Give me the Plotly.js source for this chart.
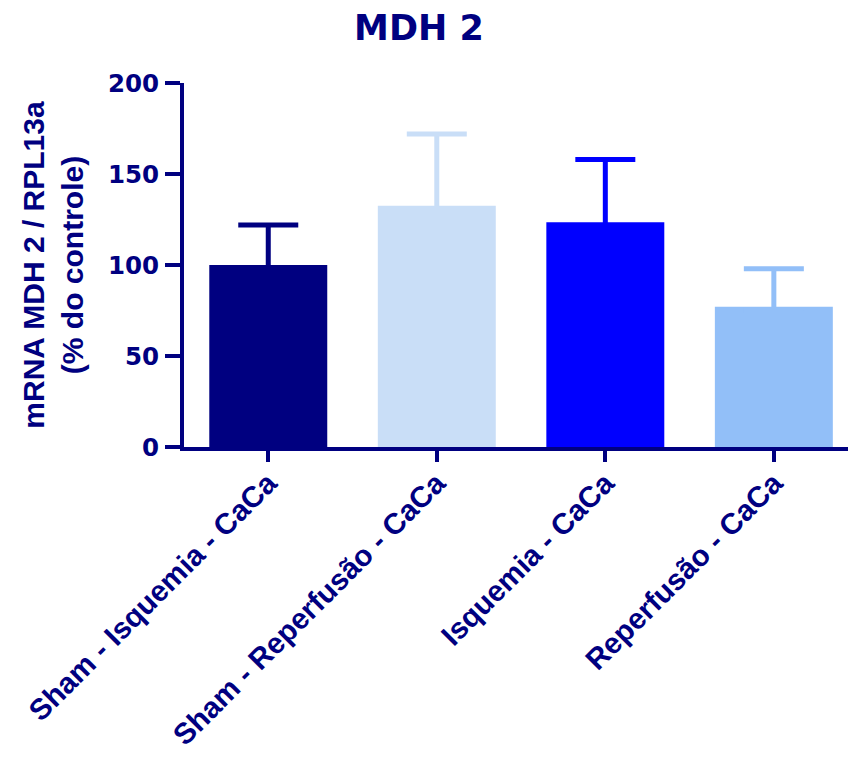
<!DOCTYPE html>
<html>
<head>
<meta charset="utf-8">
<script src="https://cdn.plot.ly/plotly-3.0.1.min.js"></script>
<style>
  html, body { margin: 0; padding: 0; background: #ffffff; }
  #chart { width: 848px; height: 758px; }
</style>
</head>
<body>
<div id="chart"></div>
<script>
// MDH 2 expression, normalised to RPL13a (% of control)
const groups = [
  "Sham - Isquemia - CaCa",
  "Sham - Reperfusão - CaCa",
  "Isquemia - CaCa",
  "Reperfusão - CaCa"
];
const meanValues = [100, 132.5, 123.5, 77];
const errorUpper = [22, 39.5, 34.5, 21];
const barColors = ["#000080", "#C9DEF7", "#0000FF", "#92BFF8"];
const yTicks = [0, 50, 100, 150, 200];

const navy = "#000080";

// Only the upper whisker is shown; the lower end is tucked just inside
// the bar top so its crossbar is hidden by the bar of the same colour.
const hiddenShoe = 2;

// One trace per group so each error bar takes its bar's colour
const traces = groups.map((g, i) => ({
  type: "bar",
  x: [g],
  y: [meanValues[i]],
  marker: { color: barColors[i], line: { width: 0 } },
  error_y: {
    type: "data",
    symmetric: false,
    array: [errorUpper[i]],
    arrayminus: [hiddenShoe],
    color: barColors[i],
    thickness: 5,
    width: 30
  },
  showlegend: false,
  hoverinfo: "x+y"
}));

const layout = {
  width: 848,
  height: 758,
  margin: { l: 184, r: 0, t: 83, b: 311 },
  paper_bgcolor: "#ffffff",
  plot_bgcolor: "#ffffff",
  barmode: "overlay",
  bargap: 0.30,
  title: {
    text: "MDH 2",
    font: { family: "DejaVu Sans", size: 35, color: navy, weight: "bold" },
    x: 0.494, xref: "container", xanchor: "center",
    y: 0.964, yref: "container", yanchor: "middle"
  },
  xaxis: {
    type: "category",
    categoryorder: "array",
    categoryarray: groups,
    range: [-0.5, 3.44],
    showgrid: false,
    zeroline: false,
    showline: true,
    linecolor: navy,
    linewidth: 4,
    ticks: "outside",
    ticklen: 11,
    tickwidth: 4,
    tickcolor: navy,
    tickangle: -45,
    ticklabelstandoff: -8,
    tickfont: { family: "Liberation Sans, Arial", size: 29.5, color: navy, weight: "bold" },
    fixedrange: true
  },
  yaxis: {
    range: [0, 200],
    tickvals: yTicks,
    ticktext: yTicks.map(String),
    showgrid: false,
    zeroline: false,
    showline: true,
    linecolor: navy,
    linewidth: 4,
    ticks: "outside",
    ticklen: 15,
    tickwidth: 4,
    tickcolor: navy,
    ticklabelstandoff: 1,
    tickfont: { family: "DejaVu Sans", size: 24.5, color: navy, weight: "bold" },
    title: {
      text: "mRNA MDH 2 / RPL13a<br>(% do controle)",
      font: { family: "Liberation Sans, Arial", size: 30, color: navy, weight: "bold" },
      standoff: 16
    },
    fixedrange: true
  }
};

Plotly.newPlot("chart", traces, layout, { displayModeBar: false, staticPlot: true });
</script>
</body>
</html>
